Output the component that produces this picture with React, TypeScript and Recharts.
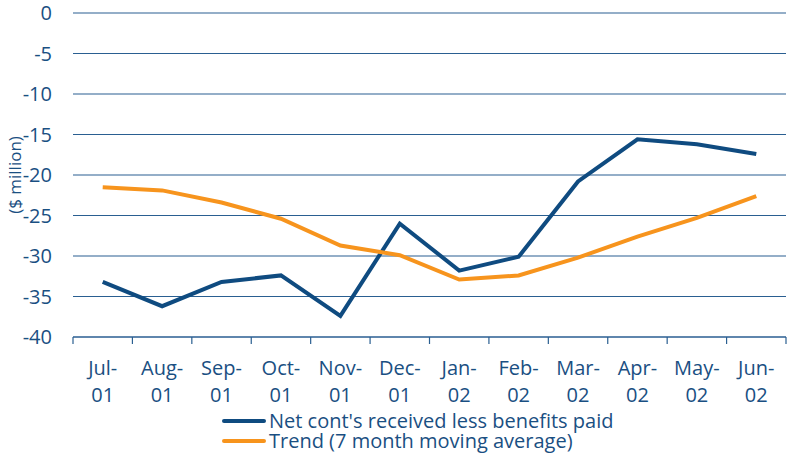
import { LineChart, Line, XAxis, YAxis, CartesianGrid, Label } from "recharts";

const months = ["Jul-01", "Aug-01", "Sep-01", "Oct-01", "Nov-01", "Dec-01", "Jan-02", "Feb-02", "Mar-02", "Apr-02", "May-02", "Jun-02"];
const netCont = [-33.2, -36.2, -33.2, -32.4, -37.4, -26.0, -31.8, -30.1, -20.8, -15.6, -16.2, -17.4];
const trend = [-21.5, -21.9, -23.4, -25.4, -28.7, -29.9, -32.9, -32.4, -30.2, -27.6, -25.3, -22.6];
const yTicks = [0, -5, -10, -15, -20, -25, -30, -35, -40];

const NAVY = "#0f4b80";
const ORANGE = "#f7941d";
const TEXT = "#1a4f82";
const GRID = "#2a5f91";
const FONT = "'Open Sans', 'DejaVu Sans', sans-serif";

const W = 788;
const H = 458;
const LEFT = 73;
const RIGHT = 2;
const BAND = (W - LEFT - RIGHT) / months.length;

const data = months.map((m, i) => ({ month: m, net: netCont[i], trend: trend[i] }));

function MonthTick(props: any) {
  const { x, y, payload, index } = props;
  const [mon, yr] = String(payload.value).split("-");
  return (
    <g>
      <line x1={x - BAND / 2} x2={x - BAND / 2} y1={y} y2={y + 7} stroke={GRID} strokeWidth={1.2} />
      {index === months.length - 1 && (
        <line x1={x + BAND / 2} x2={x + BAND / 2} y1={y} y2={y + 7} stroke={GRID} strokeWidth={1.2} />
      )}
      <text x={x} y={y + 38} textAnchor="middle" fill={TEXT} fontSize={20} fontFamily={FONT}>
        {mon}-
      </text>
      <text x={x} y={y + 65} textAnchor="middle" fill={TEXT} fontSize={20} fontFamily={FONT}>
        {yr}
      </text>
    </g>
  );
}

export default function App() {
  return (
    <div style={{ position: "absolute", left: 0, top: 0, width: W, height: H, background: "#fff" }}>
      <LineChart width={W} height={H} data={data} margin={{ top: 13, right: RIGHT, left: 0, bottom: 46 }}>
        <CartesianGrid vertical={false} stroke={GRID} strokeWidth={1.2} />
        <XAxis
          dataKey="month"
          interval={0}
          height={75}
          padding={{ left: BAND / 2, right: BAND / 2 }}
          tickLine={false}
          tickSize={0}
          tickMargin={0}
          axisLine={{ stroke: GRID, strokeWidth: 1.2 }}
          tick={<MonthTick />}
        />
        <YAxis
          width={LEFT}
          domain={[-40, 0]}
          ticks={yTicks}
          interval={0}
          axisLine={false}
          tickLine={false}
          tickMargin={15}
          tick={{ fill: TEXT, fontSize: 20, fontFamily: FONT }}
        >
          <Label
            value="($ million)"
            angle={-90}
            position="insideLeft"
            offset={15}
            style={{ fill: TEXT, fontSize: 17, fontFamily: FONT, textAnchor: "middle" }}
          />
        </YAxis>
        <Line type="linear" dataKey="net" stroke={NAVY} strokeWidth={4} dot={false} isAnimationActive={false} />
        <Line type="linear" dataKey="trend" stroke={ORANGE} strokeWidth={4} dot={false} isAnimationActive={false} />
      </LineChart>
      <div style={{ position: "absolute", left: 222, top: 411, fontFamily: FONT, fontSize: 20, color: TEXT, lineHeight: "20px" }}>
        {[
          { name: "Net cont's received less benefits paid", color: NAVY },
          { name: "Trend (7 month moving average)", color: ORANGE },
        ].map((e) => (
          <div key={e.name} style={{ display: "flex", alignItems: "center", whiteSpace: "nowrap", height: 20 }}>
            <span style={{ display: "inline-block", width: 44, height: 4, background: e.color, borderRadius: 2, marginRight: 3 }} />
            <span>{e.name}</span>
          </div>
        ))}
      </div>
    </div>
  );
}
